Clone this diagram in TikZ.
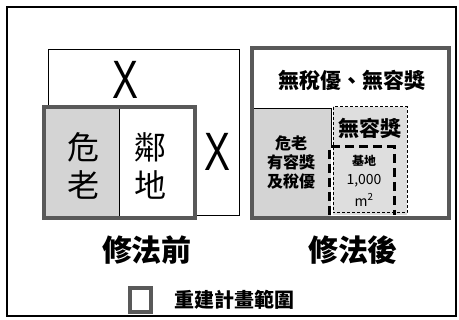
\documentclass[tikz,border=0pt]{standalone}
\usepackage{fontspec}
\newfontfamily\cjk{Noto Sans CJK TC}
\newfontfamily\xfont{Liberation Sans}
\begin{document}
\begin{tikzpicture}[x=1pt,y=-1pt,
  thinbox/.style={draw=black,line width=0.9pt},
  rangebox/.style={draw=black!65,line width=4pt},
  shade/.style={fill=black!17},
  lbl/.style={font=\cjk, inner sep=0pt, align=center},
  xmark/.style={inner sep=0pt,font=\xfont\fontsize{54}{54}\selectfont,xscale=0.72},
  every node/.style={inner sep=0pt}]
\useasboundingbox (0,0) rectangle (459,320);
\fill[white] (0,0) rectangle (459,320);
% outer frame
\draw[line width=2pt] (7,7) rectangle (456,316);
% ---- left diagram ----
\draw[thinbox,fill=white] (48,49) rectangle (239,215);
\fill[shade] (44,107) rectangle (119,218);
\fill[white] (119,107) rectangle (195,218);
\draw[thinbox] (119,107) -- (119,218);
\draw[rangebox] (44,107) rectangle (195,218);
\node[xmark] (x1) at (125,80) {X};
\node[xmark] (x2) at (217,152) {X};
\node[lbl,font=\cjk\fontsize{32}{36}\selectfont] (wei) at (83,147) {危};
\node[lbl,font=\cjk\fontsize{32}{36}\selectfont] (lao) at (83,185) {老};
\node[lbl,font=\cjk\fontsize{32}{36}\selectfont] (lin) at (151,147) {鄰};
\node[lbl,font=\cjk\fontsize{32}{36}\selectfont] (di) at (151,185) {地};
\node[lbl,font=\cjk\bfseries\fontsize{30}{30}\selectfont] (before) at (147,250) {修法前};
% ---- right diagram ----
\fill[white] (252,48) rectangle (449,218);
\fill[shade] (252,108) rectangle (331,218);
\fill[black!13] (333,107) rectangle (407,215);
\draw[thinbox] (252,108) -- (331,108) -- (331,147);
\draw[line width=1pt,dash pattern=on 3pt off 2pt] (333,107) rectangle (407,213);
\draw[line width=3pt,dash pattern=on 9pt off 5pt] (329,215) -- (329,147) -- (394,147) -- (394,215);
\draw[rangebox] (252,48) rectangle (449,218);
\node[lbl,font=\cjk\bfseries\fontsize{21}{21}\selectfont] (top) at (352,80) {無稅優、無容獎};
\node[lbl,font=\cjk\bfseries\fontsize{16}{19}\selectfont] (left) at (291,163) {危老\\有容獎\\及稅優};
\node[lbl,font=\cjk\bfseries\fontsize{21}{21}\selectfont] (mid) at (370,128) {無容獎};
\node[lbl,font=\cjk\bfseries\fontsize{12}{12}\selectfont] (base) at (364,161) {基地};
\node[lbl,font=\cjk\fontsize{14}{14}\selectfont] (area) at (364,181) {1,000};
\node[lbl,font=\cjk\fontsize{14}{14}\selectfont] (unit) at (364,200) {m\textsuperscript{2}};
\node[lbl,font=\cjk\bfseries\fontsize{30}{30}\selectfont] (after) at (353,250) {修法後};
% ---- legend ----
\draw[draw=black!65,line width=4pt,fill=white] (130,288) rectangle (151,312);
\node[lbl,anchor=west,font=\cjk\bfseries\fontsize{20}{20}\selectfont] (legend) at (174,300) {重建計畫範圍};
\end{tikzpicture}
\end{document}
